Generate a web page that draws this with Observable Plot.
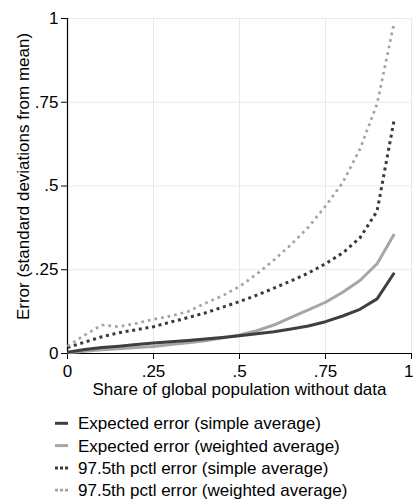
<!DOCTYPE html>
<html>
<head>
<meta charset="utf-8">
<script src="https://cdn.jsdelivr.net/npm/d3@7"></script>
<script src="https://cdn.jsdelivr.net/npm/@observablehq/plot@0.6"></script>
<style>
  html, body { margin: 0; padding: 0; background: #fff; }
  #chart { width: 413px; font-family: "Liberation Sans", Arial, sans-serif; }
  #chart svg { display: block; }
</style>
</head>
<body>
<div id="chart"></div>
<script>
// Share of global population without data (x)
const share = [0, 0.05, 0.10, 0.15, 0.20, 0.25, 0.30, 0.35, 0.40, 0.45, 0.50, 0.55, 0.60, 0.65, 0.70, 0.75, 0.80, 0.85, 0.90, 0.95];

// Series values (error, in standard deviations from mean)
const expectedSimple   = [0.004, 0.012, 0.018, 0.022, 0.027, 0.031, 0.035, 0.039, 0.043, 0.048, 0.053, 0.059, 0.065, 0.073, 0.082, 0.095, 0.112, 0.132, 0.163, 0.241];
const expectedWeighted = [0.002, 0.007, 0.011, 0.014, 0.018, 0.021, 0.027, 0.032, 0.038, 0.046, 0.055, 0.068, 0.085, 0.108, 0.130, 0.153, 0.183, 0.218, 0.268, 0.357];
const pctlSimple       = [0.018, 0.034, 0.050, 0.062, 0.071, 0.080, 0.094, 0.107, 0.121, 0.138, 0.155, 0.174, 0.195, 0.217, 0.240, 0.268, 0.300, 0.345, 0.425, 0.700];
const pctlWeighted     = [0.022, 0.055, 0.085, 0.080, 0.090, 0.102, 0.112, 0.125, 0.150, 0.172, 0.200, 0.237, 0.279, 0.325, 0.377, 0.440, 0.510, 0.610, 0.745, 0.990];

const seriesNames = [
  "Expected error (simple average)",
  "Expected error (weighted average)",
  "97.5th pctl error (simple average)",
  "97.5th pctl error (weighted average)"
];

const tickValues = [0, 0.25, 0.5, 0.75, 1];
const tickLabels = ["0", ".25", ".5", ".75", "1"];
const xTitle = "Share of global population without data";
const yTitle = "Error (standard deviations from mean)";

// styles (kept apart from data)
const styles = [
  {stroke: "#3f3f3f", strokeWidth: 3, dash: null},
  {stroke: "#a6a6a6", strokeWidth: 3, dash: null},
  {stroke: "#3a3a3a", strokeWidth: 3, dash: "3,3.7"},
  {stroke: "#a3a3a3", strokeWidth: 2.7, dash: "2.7,4"}
];

const valueArrays = [expectedSimple, expectedWeighted, pctlSimple, pctlWeighted];
const table = valueArrays.flatMap((vals, s) => vals.map((v, i) => ({series: seriesNames[s], x: share[i], y: v})));

const fmt = d => tickLabels[tickValues.indexOf(d)];
const FONT = "Liberation Sans, Arial, sans-serif";

const drawOrder = [1, 0, 2, 3];
const lineMarks = drawOrder.map(s => Plot.line(table.filter(d => d.series === seriesNames[s]), {
  x: "x", y: "y",
  stroke: styles[s].stroke,
  strokeWidth: styles[s].strokeWidth,
  strokeDasharray: styles[s].dash || undefined,
  strokeLinecap: "butt",
  strokeLinejoin: "round",
  curve: "linear"
}));

const lastTick = tickValues[tickValues.length - 1];

const chart = Plot.plot({
  width: 413,
  height: 400,
  marginLeft: 67,
  marginRight: 2,
  marginTop: 18,
  marginBottom: 47,
  style: {fontFamily: FONT, fontSize: "17px", background: "white", color: "black", overflow: "visible"},
  x: {domain: [0, 1]},
  y: {domain: [0, 1]},
  marks: [
    Plot.gridX(tickValues.slice(1), {stroke: "#e2ebed", strokeOpacity: 1, strokeWidth: 1}),
    Plot.gridY(tickValues.slice(1), {stroke: "#e2ebed", strokeOpacity: 1, strokeWidth: 1}),
    Plot.axisX(tickValues, {tickSize: 6, tickPadding: 5, tickFormat: d => d === lastTick ? "" : fmt(d), label: null, fontSize: 17, stroke: "black"}),
    Plot.text([lastTick], {x: d => d, text: fmt, frameAnchor: "bottom", lineAnchor: "top", dy: 11, textAnchor: "end", dx: 2, fontSize: 17, fill: "black"}),
    Plot.axisY(tickValues, {tickSize: 6, tickPadding: 3, tickFormat: fmt, label: null, fontSize: 17, stroke: "black"}),
    Plot.ruleX([0], {stroke: "black", strokeWidth: 1.2}),
    Plot.ruleY([0], {stroke: "black", strokeWidth: 1.2}),
    ...lineMarks,
    Plot.text([xTitle], {text: d => d, frameAnchor: "bottom", dy: 41.5, lineAnchor: "bottom", fontSize: 17, fill: "black"}),
    Plot.text([yTitle], {text: d => d, frameAnchor: "left", textAnchor: "middle", rotate: -90, dx: -39, dy: -9.5, lineAnchor: "bottom", fontSize: 17, fill: "black"})
  ]
});

document.getElementById("chart").append(chart);

// Legend below the plot
const legend = d3.create("svg")
  .attr("width", 413)
  .attr("height", 100)
  .style("font-family", FONT)
  .style("font-size", "17px");

seriesNames.forEach((name, i) => {
  const cy = 23.3 + 22.3 * i;
  const st = styles[i];
  legend.append("line")
    .attr("x1", 55).attr("x2", 68)
    .attr("y1", cy).attr("y2", cy)
    .attr("stroke", st.stroke)
    .attr("stroke-width", st.strokeWidth)
    .attr("stroke-dasharray", st.dash ? "3,2" : null);
  legend.append("text")
    .attr("x", 78)
    .attr("y", cy)
    .attr("dy", "0.35em")
    .attr("fill", "black")
    .text(name);
});

document.getElementById("chart").append(legend.node());
</script>
</body>
</html>
